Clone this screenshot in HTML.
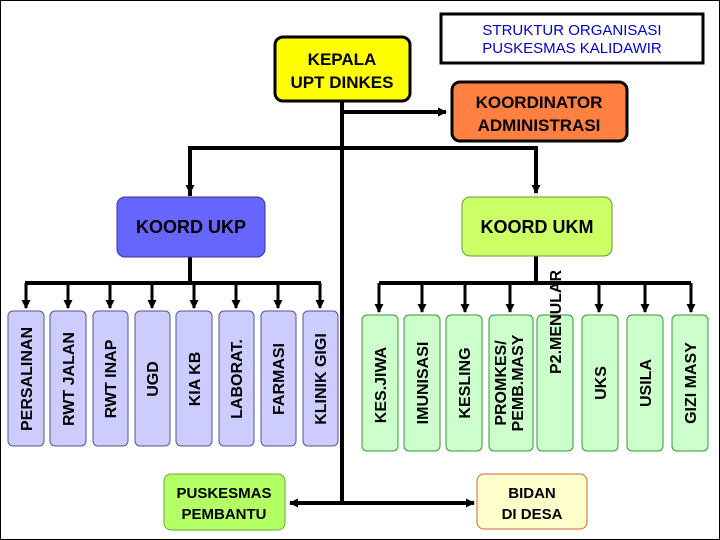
<!DOCTYPE html>
<html><head><meta charset="utf-8"><style>
html,body{margin:0;padding:0;background:#fff}
svg{display:block}
text{font-family:"Liberation Sans",Arial,sans-serif;font-weight:bold}
</style></head><body>
<svg width="720" height="540" viewBox="0 0 720 540" xmlns="http://www.w3.org/2000/svg">
<defs>
<marker id="ah" markerWidth="9" markerHeight="9" refX="8" refY="4.5" orient="auto" markerUnits="userSpaceOnUse">
<path d="M0,0 L9,4.5 L0,9 z" fill="#000"/></marker>
</defs>
<rect x="0.5" y="0.5" width="719" height="539" fill="#fff" stroke="#000" stroke-width="1"/>
<rect x="441" y="14" width="262" height="49" fill="#fff" stroke="#000" stroke-width="3"/>
<text x="572" y="35" font-size="15" fill="#0000cc" text-anchor="middle" style="font-weight:normal">STRUKTUR ORGANISASI</text>
<text x="572" y="53" font-size="15" fill="#0000cc" text-anchor="middle" style="font-weight:normal">PUSKESMAS KALIDAWIR</text>
<g stroke="#000" stroke-width="4" fill="none">
<line x1="342" y1="100" x2="342" y2="503"/>
<line x1="342" y1="112" x2="446" y2="112" marker-end="url(#ah)"/>
<polyline points="190,196 190,148 536,148 536,193" marker-end="url(#ah)"/>
<line x1="190" y1="148" x2="190" y2="193" marker-end="url(#ah)"/>
<line x1="190" y1="257" x2="190" y2="283"/>
<line x1="25" y1="283" x2="321" y2="283"/>
<line x1="536" y1="256" x2="536" y2="283"/>
<line x1="379" y1="283" x2="691" y2="283"/>
<line x1="342" y1="503" x2="290" y2="503" marker-end="url(#ah)"/>
<line x1="342" y1="503" x2="474" y2="503" marker-end="url(#ah)"/>
<g stroke-width="3">
<line x1="26" y1="283" x2="26" y2="308" marker-end="url(#ah)"/>
<line x1="68" y1="283" x2="68" y2="308" marker-end="url(#ah)"/>
<line x1="110" y1="283" x2="110" y2="308" marker-end="url(#ah)"/>
<line x1="152" y1="283" x2="152" y2="308" marker-end="url(#ah)"/>
<line x1="194" y1="283" x2="194" y2="308" marker-end="url(#ah)"/>
<line x1="236" y1="283" x2="236" y2="308" marker-end="url(#ah)"/>
<line x1="278" y1="283" x2="278" y2="308" marker-end="url(#ah)"/>
<line x1="320" y1="283" x2="320" y2="308" marker-end="url(#ah)"/>
<line x1="379" y1="283" x2="379" y2="312" marker-end="url(#ah)"/>
<line x1="422" y1="283" x2="422" y2="312" marker-end="url(#ah)"/>
<line x1="465" y1="283" x2="465" y2="312" marker-end="url(#ah)"/>
<line x1="510" y1="283" x2="510" y2="312" marker-end="url(#ah)"/>
<line x1="599" y1="283" x2="599" y2="312" marker-end="url(#ah)"/>
<line x1="645" y1="283" x2="645" y2="312" marker-end="url(#ah)"/>
<line x1="691" y1="283" x2="691" y2="312" marker-end="url(#ah)"/>
</g>
</g>
<rect x="275" y="37" width="135" height="64" rx="8" fill="#ffff00" stroke="#000" stroke-width="3"/>
<text x="342" y="65" font-size="17" text-anchor="middle">KEPALA</text>
<text x="342" y="88" font-size="17" text-anchor="middle">UPT DINKES</text>
<rect x="452" y="82" width="175" height="59" rx="8" fill="#ff8040" stroke="#000" stroke-width="3"/>
<text x="539" y="108" font-size="17" text-anchor="middle">KOORDINATOR</text>
<text x="539" y="131" font-size="17" text-anchor="middle">ADMINISTRASI</text>
<rect x="117" y="197" width="148" height="60" rx="8" fill="#6666ff" stroke="#333399" stroke-width="1"/>
<text x="191" y="233" font-size="18" text-anchor="middle">KOORD UKP</text>
<rect x="462" y="197" width="150" height="59" rx="8" fill="#ccff66" stroke="#669933" stroke-width="1"/>
<text x="537" y="233" font-size="18" text-anchor="middle">KOORD UKM</text>
<g fill="#ccccff" stroke="#555588" stroke-width="1">
<rect x="8" y="311" width="36" height="135" rx="5"/>
<rect x="50" y="311" width="36" height="135" rx="5"/>
<rect x="93" y="311" width="35" height="135" rx="5"/>
<rect x="135" y="311" width="35" height="135" rx="5"/>
<rect x="176" y="311" width="36" height="135" rx="5"/>
<rect x="219" y="311" width="35" height="135" rx="5"/>
<rect x="261" y="311" width="35" height="135" rx="5"/>
<rect x="303" y="311" width="35" height="135" rx="5"/>
</g>
<g font-size="16" text-anchor="middle">
<text transform="translate(32,379) rotate(-90)">PERSALINAN</text>
<text transform="translate(74,379) rotate(-90)">RWT JALAN</text>
<text transform="translate(116,379) rotate(-90)">RWT INAP</text>
<text transform="translate(158,379) rotate(-90)">UGD</text>
<text transform="translate(200,379) rotate(-90)">KIA KB</text>
<text transform="translate(242,379) rotate(-90)">LABORAT.</text>
<text transform="translate(284,379) rotate(-90)">FARMASI</text>
<text transform="translate(326,379) rotate(-90)">KLINIK GIGI</text>
</g>
<g fill="#ccffcc" stroke="#339933" stroke-width="1">
<rect x="362" y="315" width="36" height="136" rx="5"/>
<rect x="404" y="315" width="36" height="136" rx="5"/>
<rect x="446" y="315" width="36" height="136" rx="5"/>
<rect x="489" y="315" width="44" height="136" rx="5"/>
<rect x="537" y="315" width="36" height="136" rx="5"/>
<rect x="582" y="315" width="36" height="136" rx="5"/>
<rect x="627" y="315" width="36" height="136" rx="5"/>
<rect x="672" y="315" width="36" height="136" rx="5"/>
</g>
<g font-size="16" text-anchor="middle">
<text transform="translate(386,385) rotate(-90)">KES.JIWA</text>
<text transform="translate(428,383) rotate(-90)">IMUNISASI</text>
<text transform="translate(470,383) rotate(-90)">KESLING</text>
<text transform="translate(506,383) rotate(-90)">PROMKES/</text>
<text transform="translate(523,383) rotate(-90)">PEMB.MASY</text>
<text transform="translate(561,322) rotate(-90)">P2.MENULAR</text>
<text transform="translate(606,383) rotate(-90)">UKS</text>
<text transform="translate(651,383) rotate(-90)">USILA</text>
<text transform="translate(696,383) rotate(-90)">GIZI MASY</text>
</g>
<rect x="164" y="474" width="121" height="56" rx="7" fill="#b3ff66" stroke="#66aa33" stroke-width="1"/>
<text x="224" y="498" font-size="15" text-anchor="middle">PUSKESMAS</text>
<text x="224" y="519" font-size="15" text-anchor="middle">PEMBANTU</text>
<rect x="477" y="474" width="110" height="55" rx="7" fill="#ffffcc" stroke="#cc6633" stroke-width="1"/>
<text x="532" y="498" font-size="15" text-anchor="middle">BIDAN</text>
<text x="532" y="519" font-size="15" text-anchor="middle">DI DESA</text>
</svg>
</body></html>
